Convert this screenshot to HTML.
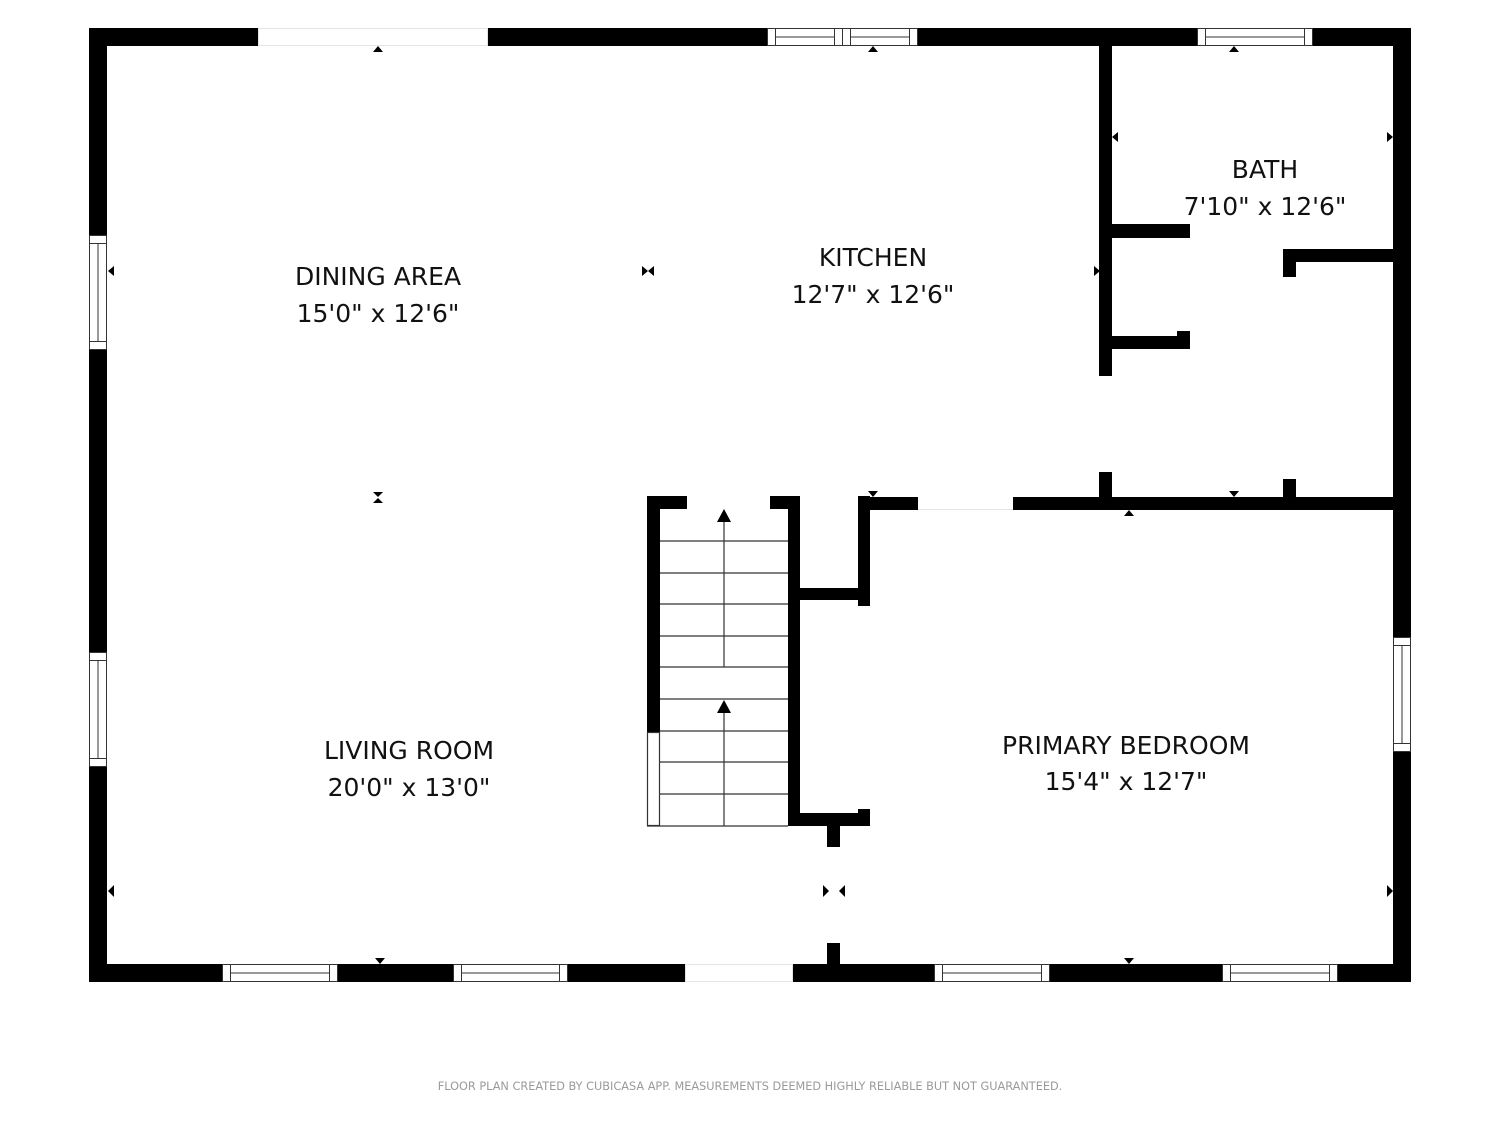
<!DOCTYPE html>
<html><head><style>
html,body{margin:0;padding:0;background:#fff;}
svg{display:block;}
text{font-family:"DejaVu Sans","Liberation Sans",sans-serif;fill:#111;}
</style></head><body>
<svg width="1500" height="1125" viewBox="0 0 1500 1125" xmlns="http://www.w3.org/2000/svg">
<g fill="#000">
<rect x="89" y="28" width="169" height="18"/>
<rect x="488" y="28" width="279" height="18"/>
<rect x="918" y="28" width="279" height="18"/>
<rect x="1313" y="28" width="98" height="18"/>
<rect x="89" y="28" width="18" height="207"/>
<rect x="89" y="350" width="18" height="302"/>
<rect x="89" y="767" width="18" height="215"/>
<rect x="89" y="964" width="133" height="18"/>
<rect x="338" y="964" width="115" height="18"/>
<rect x="568" y="964" width="117" height="18"/>
<rect x="793" y="964" width="141" height="18"/>
<rect x="1050" y="964" width="172" height="18"/>
<rect x="1338" y="964" width="73" height="18"/>
<rect x="1393" y="28" width="18" height="609"/>
<rect x="1393" y="752" width="18" height="230"/>
<rect x="1099" y="28" width="13" height="348"/>
<rect x="1099" y="472" width="13" height="38"/>
<rect x="1112" y="224" width="78" height="14"/>
<rect x="1177" y="224" width="13" height="14"/>
<rect x="1112" y="336" width="78" height="13"/>
<rect x="1177" y="331" width="13" height="18"/>
<rect x="1283" y="249" width="110" height="13"/>
<rect x="1283" y="249" width="13" height="28"/>
<rect x="1283" y="479" width="13" height="31"/>
<rect x="1013" y="497" width="380" height="13"/>
<rect x="858" y="497" width="60" height="13"/>
<rect x="647" y="496" width="13" height="236"/>
<rect x="647" y="496" width="40" height="13"/>
<rect x="770" y="496" width="30" height="13"/>
<rect x="788" y="496" width="12" height="330"/>
<rect x="800" y="588" width="70" height="12"/>
<rect x="858" y="496" width="12" height="110"/>
<rect x="858" y="809" width="12" height="17"/>
<rect x="788" y="813" width="82" height="13"/>
<rect x="827" y="813" width="13" height="34"/>
<rect x="827" y="943" width="13" height="21"/>
</g>
<g fill="#fff" stroke="#333" stroke-width="1">
<rect x="767.5" y="28.5" width="75" height="17"/><rect x="775.5" y="28.5" width="59" height="17"/><line x1="775" y1="37" x2="835" y2="37"/>
<rect x="842.5" y="28.5" width="75" height="17"/><rect x="850.5" y="28.5" width="59" height="17"/><line x1="850" y1="37" x2="910" y2="37"/>
<rect x="1197.5" y="28.5" width="115" height="17"/><rect x="1205.5" y="28.5" width="99" height="17"/><line x1="1205" y1="37" x2="1305" y2="37"/>
<rect x="89.5" y="235.5" width="17" height="114"/><rect x="89.5" y="243.5" width="17" height="98"/><line x1="98" y1="243" x2="98" y2="342"/>
<rect x="89.5" y="652.5" width="17" height="114"/><rect x="89.5" y="660.5" width="17" height="98"/><line x1="98" y1="660" x2="98" y2="759"/>
<rect x="1393.5" y="637.5" width="17" height="114"/><rect x="1393.5" y="645.5" width="17" height="98"/><line x1="1402" y1="645" x2="1402" y2="744"/>
<rect x="222.5" y="964.5" width="115" height="17"/><rect x="230.5" y="964.5" width="99" height="17"/><line x1="230" y1="973" x2="330" y2="973"/>
<rect x="453.5" y="964.5" width="114" height="17"/><rect x="461.5" y="964.5" width="98" height="17"/><line x1="461" y1="973" x2="560" y2="973"/>
<rect x="934.5" y="964.5" width="115" height="17"/><rect x="942.5" y="964.5" width="99" height="17"/><line x1="942" y1="973" x2="1042" y2="973"/>
<rect x="1222.5" y="964.5" width="115" height="17"/><rect x="1230.5" y="964.5" width="99" height="17"/><line x1="1230" y1="973" x2="1330" y2="973"/>
</g>
<g fill="none" stroke="#e4e4e4" stroke-width="1">
<rect x="258.5" y="28.5" width="229" height="17"/>
<rect x="685.5" y="964.5" width="107" height="17"/>
<line x1="918" y1="509.5" x2="1013" y2="509.5"/>
</g>
<g stroke="#333" stroke-width="1.2" fill="none">
<line x1="660" y1="541" x2="788" y2="541"/><line x1="660" y1="573" x2="788" y2="573"/>
<line x1="660" y1="604" x2="788" y2="604"/><line x1="660" y1="636" x2="788" y2="636"/>
<line x1="660" y1="667" x2="788" y2="667"/><line x1="660" y1="699" x2="788" y2="699"/>
<line x1="660" y1="731" x2="788" y2="731"/><line x1="660" y1="762" x2="788" y2="762"/>
<line x1="660" y1="794" x2="788" y2="794"/><line x1="647" y1="826" x2="788" y2="826"/>
<rect x="647.5" y="732.5" width="12" height="93"/>
<line x1="724" y1="667" x2="724" y2="518"/><line x1="724" y1="826" x2="724" y2="710"/>
</g>
<g fill="#000">
<polygon points="717,522 731,522 724,509"/><polygon points="717,713 731,713 724,700"/>
<polygon points="373,52 383,52 378,46"/><polygon points="868,52 878,52 873,46"/><polygon points="1229,52 1239,52 1234,46"/>
<polygon points="114,266 114,276 108,271"/><polygon points="114,885 114,897 108,891"/>
<polygon points="642,266 642,276 648,271"/><polygon points="654,266 654,276 648,271"/>
<polygon points="1094,266 1094,276 1100,271"/>
<polygon points="1118,132 1118,142 1112,137"/><polygon points="1387,132 1387,142 1393,137"/>
<polygon points="1387,885 1387,897 1393,891"/>
<polygon points="373,492 383,492 378,497"/><polygon points="373,503 383,503 378,498"/>
<polygon points="868,491 878,491 873,497"/><polygon points="1229,491 1239,491 1234,497"/>
<polygon points="1124,516 1134,516 1129,510"/>
<polygon points="375,958 385,958 380,964"/><polygon points="1124,958 1134,958 1129,964"/>
<polygon points="823,885 823,897 829,891"/><polygon points="845,885 845,897 839,891"/>
</g>
<g font-size="25" text-anchor="middle">
<text x="378" y="285">DINING AREA</text><text x="378" y="322">15'0" x 12'6"</text>
<text x="873" y="266">KITCHEN</text><text x="873" y="303">12'7" x 12'6"</text>
<text x="1265" y="178">BATH</text><text x="1265" y="215">7'10" x 12'6"</text>
<text x="409" y="759">LIVING ROOM</text><text x="409" y="796">20'0" x 13'0"</text>
<text x="1126" y="754">PRIMARY BEDROOM</text><text x="1126" y="790">15'4" x 12'7"</text>
</g>
<text x="750" y="1090" font-size="11.3" text-anchor="middle" style="fill:#9a9a9a">FLOOR PLAN CREATED BY CUBICASA APP. MEASUREMENTS DEEMED HIGHLY RELIABLE BUT NOT GUARANTEED.</text>
</svg>
</body></html>
